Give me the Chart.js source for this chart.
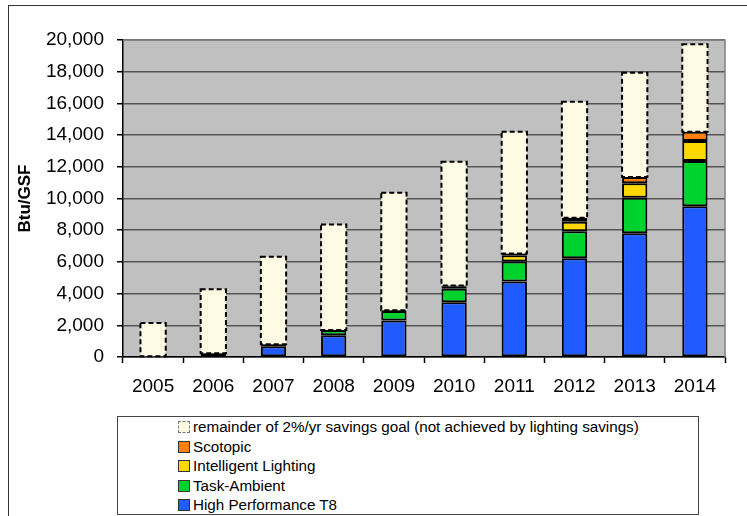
<!DOCTYPE html>
<html>
<head>
<meta charset="utf-8">
<title>Lighting savings toward 2%/yr goal</title>
<script src="https://cdn.jsdelivr.net/npm/chart.js@4.4.1/dist/chart.umd.min.js"></script>
<style>
  body { margin: 0; background: #fff; font-family: "Liberation Sans", Arial, sans-serif; }
  #wrap { position: relative; width: 747px; height: 516px; overflow: hidden; }
  #legend {
    position: absolute; left: 117px; top: 416px; width: 582px; height: 99px;
    border: 1px solid #444; box-sizing: border-box; background: #fff;
  }
  #legend ul { list-style: none; margin: 0; padding: 0 0 0 60px; }
  #legend li { height: 19.5px; line-height: 19.5px; font-size: 15.2px; color: #000; white-space: nowrap; }
  #legend .sw {
    display: inline-block; width: 10px; height: 10px; margin-right: 3px;
    vertical-align: -1px; border: 1px solid #333;
  }
  #legend .sw.dash { border: 1px dashed #777; }
</style>
</head>
<body>
<div id="wrap">
  <canvas id="chart-savings" width="747" height="516"></canvas>
  <div id="legend"></div>
</div>
<script>
/* Savings by measure, Btu/GSF */
var years = ['2005', '2006', '2007', '2008', '2009', '2010', '2011', '2012', '2013', '2014'];
var highPerfT8 = [0, 230, 680, 1370, 2310, 3450, 4760, 6230, 7800, 9510];
var taskAmbient = [0, 0, 130, 330, 600, 850, 1260, 1710, 2250, 2850];
var intelligentLighting = [0, 0, 0, 0, 40, 170, 400, 590, 910, 1260];
var scotopic = [0, 0, 0, 0, 0, 40, 110, 250, 400, 590];
var goalRemainder = [2150, 4040, 5510, 6660, 7410, 7810, 7680, 7330, 6580, 5520];
var yTicks = [0, 2000, 4000, 6000, 8000, 10000, 12000, 14000, 16000, 18000, 20000];

var fontFamily = '"Liberation Sans", Arial, sans-serif';

// grey plot area plus the outer frame
var plotBackground = {
    id: 'plotBackground',
    beforeDraw: function (chart) {
        var ctx = chart.ctx, a = chart.chartArea;
        ctx.save();
        ctx.fillStyle = '#c0c0c0';
        ctx.fillRect(a.left, a.top, a.right - a.left, a.bottom - a.top);
        ctx.strokeStyle = '#333';
        ctx.lineWidth = 1;
        ctx.strokeRect(8.5, 5.5, 900, 700);
        ctx.restore();
    },
    afterDatasetsDraw: function (chart) {
        var ctx = chart.ctx, a = chart.chartArea;
        ctx.save();
        ctx.strokeStyle = '#808080';
        ctx.lineWidth = 1.5;
        ctx.beginPath();
        ctx.moveTo(a.left, a.top);
        ctx.lineTo(a.right, a.top);
        ctx.lineTo(a.right, a.bottom);
        ctx.stroke();
        ctx.restore();
    }
};

// Chart.js bars have no dashed borders, so outline the goal remainder by hand
var dashedRemainder = {
    id: 'dashedRemainder',
    afterDatasetsDraw: function (chart) {
        var ctx = chart.ctx;
        chart.data.datasets.forEach(function (ds, i) {
            if (!ds.dashed) return;
            chart.getDatasetMeta(i).data.forEach(function (bar) {
                var p = bar.getProps(['x', 'y', 'base', 'width'], true);
                if (Math.abs(p.base - p.y) < 1) return;
                ctx.save();
                ctx.strokeStyle = '#000';
                ctx.lineWidth = 2;
                ctx.setLineDash([5, 3]);
                ctx.strokeRect(p.x - p.width / 2, p.y, p.width, p.base - p.y);
                ctx.restore();
            });
        });
    }
};

var savingsData = {
    labels: years,
    datasets: [
        { label: 'High Performance T8', data: highPerfT8, backgroundColor: '#1f5bff' },
        { label: 'Task-Ambient', data: taskAmbient, backgroundColor: '#00d22d' },
        { label: 'Intelligent Lighting', data: intelligentLighting, backgroundColor: '#ffd800' },
        { label: 'Scotopic', data: scotopic, backgroundColor: '#ff800a' },
        {
            label: 'remainder of 2%/yr savings goal (not achieved by lighting savings)',
            data: goalRemainder, backgroundColor: '#fffae3', borderWidth: 0, dashed: true
        }
    ]
};
savingsData.datasets.forEach(function (ds) {
    if (ds.borderWidth === undefined) {
        ds.borderWidth = 2;
        ds.borderColor = '#000';
    }
    ds.borderSkipped = false;
    ds.categoryPercentage = 1;
    ds.barPercentage = 0.42;
});

var savingsOptions = {
    responsive: false,
    animation: false,
    layout: { padding: { left: 0, top: 40, right: 22, bottom: 0 } },
    plugins: { legend: { display: false }, tooltip: { enabled: false } },
    scales: {
        x: {
            stacked: true,
            grid: { offset: true, drawOnChartArea: false, drawTicks: true, tickLength: 6, tickColor: '#000', tickWidth: 1.5 },
            border: { color: '#000', width: 1.5 },
            ticks: { color: '#000', padding: 12, font: { family: fontFamily, size: 19 } },
            afterFit: function (scale) { scale.height = 159; }
        },
        y: {
            stacked: true,
            min: 0,
            max: 20000,
            afterBuildTicks: function (scale) {
                scale.ticks = yTicks.map(function (v) { return { value: v }; });
            },
            grid: { color: '#555', lineWidth: 1.5, tickLength: 6, tickColor: '#000', tickWidth: 1.5 },
            border: { color: '#000', width: 1.5 },
            ticks: {
                color: '#000', padding: 13, font: { family: fontFamily, size: 19 },
                callback: function (v) { return v.toLocaleString('en-US'); }
            },
            title: {
                display: true, text: 'Btu/GSF', color: '#000', padding: { top: 15 },
                font: { family: fontFamily, size: 17, weight: 'bold' }
            },
            afterFit: function (scale) { scale.width = 123; }
        }
    }
};

var savingsChart = new Chart(document.getElementById('chart-savings').getContext('2d'), {
    type: 'bar',
    data: savingsData,
    options: savingsOptions,
    plugins: [plotBackground, dashedRemainder]
});

// legend lists the stack top-down, like the bars
var legendHtml = '<ul>';
savingsData.datasets.slice().reverse().forEach(function (ds) {
    legendHtml += '<li><span class="sw' + (ds.dashed ? ' dash' : '') + '" style="background:' +
        ds.backgroundColor + '"></span>' + ds.label + '</li>';
});
document.getElementById('legend').innerHTML = legendHtml + '</ul>';
</script>
</body>
</html>
